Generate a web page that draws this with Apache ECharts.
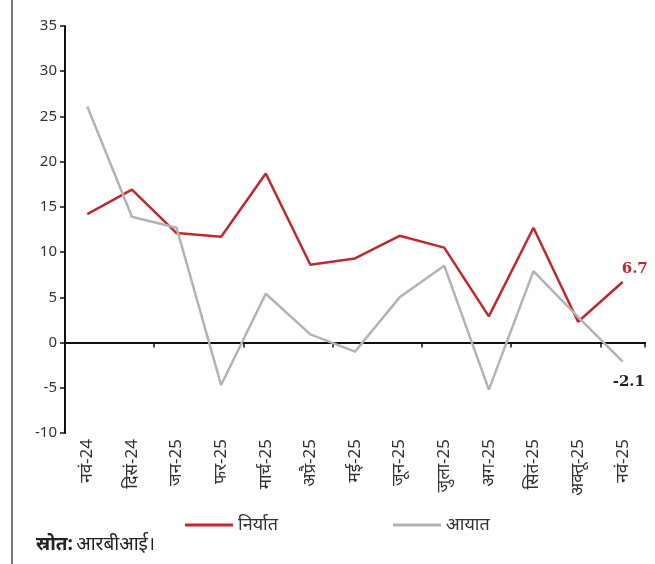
<!DOCTYPE html>
<html>
<head>
<meta charset="utf-8">
<script src="https://cdn.jsdelivr.net/npm/echarts@6/dist/echarts.min.js"></script>
<style>
  html, body { margin: 0; padding: 0; background: #fff; }
  #chart { width: 655px; height: 564px; }
</style>
</head>
<body>
<div id="chart"></div>
<script>
// महीने
const months = ["नवं-24", "दिसं-24", "जन-25", "फर-25", "मार्च-25", "अप्रै-25", "मई-25",
  "जून-25", "जुला-25", "अग-25", "सितं-25", "अक्तू-25", "नवं-25"];
// निर्यात (%)
const exportsGrowth = [14.2, 16.9, 12.1, 11.7, 18.7, 8.6, 9.3, 11.8, 10.5, 2.9, 12.7, 2.3, 6.7];
// आयात (%)
const importsGrowth = [26.1, 13.9, 12.7, -4.7, 5.4, 0.9, -1.0, 5.0, 8.5, -5.2, 7.9, 2.8, -2.1];
const yTicks = [-10, 35, 5];

const font = "'Noto Sans', 'DejaVu Sans', sans-serif";
const chart = echarts.init(document.getElementById("chart"));

const option = {
  animation: false,
  textStyle: { fontFamily: font },
  grid: { left: 65, right: 10, top: 26, bottom: 131 },
  legend: {
    bottom: 25,
    left: 180,
    icon: "rect",
    itemWidth: 48,
    itemHeight: 3,
    itemGap: 115,
    textStyle: { fontSize: 18, color: "#333", fontFamily: font },
    data: ["निर्यात", "आयात"],
  },
  xAxis: [
    {
      type: "category",
      data: months,
      boundaryGap: true,
      axisLine: { show: false, onZero: false },
      axisTick: { show: false },
      axisLabel: { rotate: 90, fontSize: 17, color: "#333", margin: 6, interval: 0 },
    },
    {
      type: "category",
      data: months,
      position: "bottom",
      boundaryGap: true,
      axisLine: { onZero: true, lineStyle: { color: "#111", width: 2 } },
      axisTick: { show: true, length: 5, lineStyle: { color: "#111", width: 1.5 } },
      axisLabel: { show: false },
    },
  ],
  yAxis: {
    type: "value",
    min: yTicks[0],
    max: yTicks[1],
    interval: yTicks[2],
    splitLine: { show: false },
    axisLine: { show: true, lineStyle: { color: "#111", width: 2 } },
    axisTick: { show: true, length: 5, lineStyle: { color: "#111", width: 1.5 } },
    axisLabel: { fontSize: 15, color: "#333", margin: 8 },
  },
  series: [
    {
      name: "निर्यात",
      type: "line",
      xAxisIndex: 0,
      symbol: "none",
      lineStyle: { color: "#c1272d", width: 2.5 },
      itemStyle: { color: "#c1272d" },
      endLabel: {
        show: true,
        formatter: "{c}",
        offset: [-9, -13],
        color: "#c1272d",
        fontWeight: "bold",
        fontSize: 15,
        fontFamily: "'DejaVu Serif', serif",
      },
      data: exportsGrowth,
    },
    {
      name: "आयात",
      type: "line",
      xAxisIndex: 0,
      symbol: "none",
      lineStyle: { color: "#b3b3b3", width: 2.5 },
      itemStyle: { color: "#b3b3b3" },
      endLabel: {
        show: true,
        formatter: "{c}",
        offset: [-18, 21],
        color: "#222",
        fontWeight: "bold",
        fontSize: 15,
        fontFamily: "'DejaVu Serif', serif",
      },
      data: importsGrowth,
    },
  ],
  graphic: [
    {
      type: "line",
      shape: { x1: 12, y1: 0, x2: 12, y2: 564 },
      style: { stroke: "#777", lineWidth: 2 },
    },
    {
      type: "text",
      left: 36,
      top: 535,
      style: {
        rich: {
          b: { fontWeight: "bold", fontSize: 19, fill: "#222", fontFamily: font },
          n: { fontSize: 19, fill: "#222", fontFamily: font },
        },
        text: "{b|स्रोत:} {n|आरबीआई।}",
      },
    },
  ],
};

chart.setOption(option);
</script>
</body>
</html>
